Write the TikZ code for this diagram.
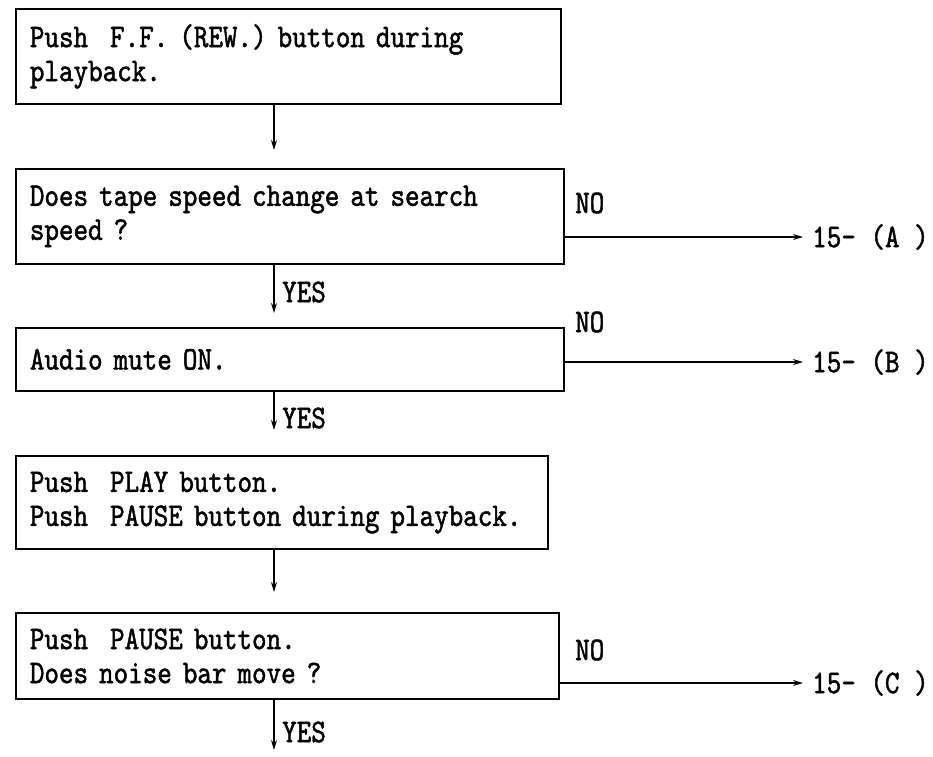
\documentclass[tikz,border=0pt]{standalone}
\usepackage{fontspec}
\setmonofont[Extension=.otf,FakeStretch=0.84,FakeBold=1.4]{lmmono10-regular}
\usetikzlibrary{arrows.meta}
\begin{document}
\begin{tikzpicture}[x=1pt,y=-1pt,
  box/.style={draw,line width=1.8pt,rectangle,anchor=north west,inner xsep=14pt,inner ysep=0pt,align=left,font=\ttfamily\fontsize{33}{34}\selectfont},
  lbl/.style={font=\ttfamily\fontsize{33}{34}\selectfont,inner sep=0pt,anchor=west},
  tgt/.style={font=\ttfamily\fontsize{33}{34}\selectfont,inner sep=0pt,anchor=west},
  arr/.style={line width=1.4pt,-{Stealth[length=10pt,width=6pt]}}]
\useasboundingbox (0,0) rectangle (933,756);
\coordinate (ax) at (274,0);
% boxes
\node[box,text width=517pt,minimum height=95pt] (b1) at (15,8) {Push~~F.F. (REW.) button during\\playback.};
\node[box,text width=520pt,minimum height=95pt] (b2) at (15,168) {Does tape speed change at search\\speed ?};
\node[box,text width=520pt,minimum height=63pt] (b3) at (15,327) {Audio mute ON.};
\node[box,text width=504pt,minimum height=93pt] (b4) at (15,455) {Push~~PLAY button.\\Push~~PAUSE button during playback.};
\node[box,text width=515pt,minimum height=86pt] (b5) at (15,612) {Push~~PAUSE button.\\Does noise bar move ?};
% targets
\node[tgt] (ta) at (812,237) {15- (A )};
\node[tgt] (tb) at (812,362) {15- (B )};
\node[tgt] (tc) at (812,683) {15- (C )};
% labels
\node[lbl] (noa) at (575,203) {NO};
\node[lbl] (nob) at (575,322) {NO};
\node[lbl] (noc) at (575,650) {NO};
\node[lbl] (y1) at (282,292) {YES};
\node[lbl] (y2) at (282,418) {YES};
\node[lbl] (y3) at (282,732) {YES};
\coordinate (end) at (274,750);
% vertical connectors
\draw[arr,shorten >=18pt] (b1.south -| ax) -- (b2.north -| ax);
\draw[arr,shorten >=14pt] (b2.south -| ax) -- (b3.north -| ax);
\draw[arr,shorten >=25pt] (b3.south -| ax) -- (b4.north -| ax);
\draw[arr,shorten >=20pt] (b4.south -| ax) -- (b5.north -| ax);
\draw[arr] (b5.south -| ax) -- (end);
% NO connectors
\draw[arr,shorten >=9pt] (b2.east |- ta.west) -- (ta.west);
\draw[arr,shorten >=9pt] (b3.east |- tb.west) -- (tb.west);
\draw[arr,shorten >=9pt] (b5.east |- tc.west) -- (tc.west);
\end{tikzpicture}
\end{document}
